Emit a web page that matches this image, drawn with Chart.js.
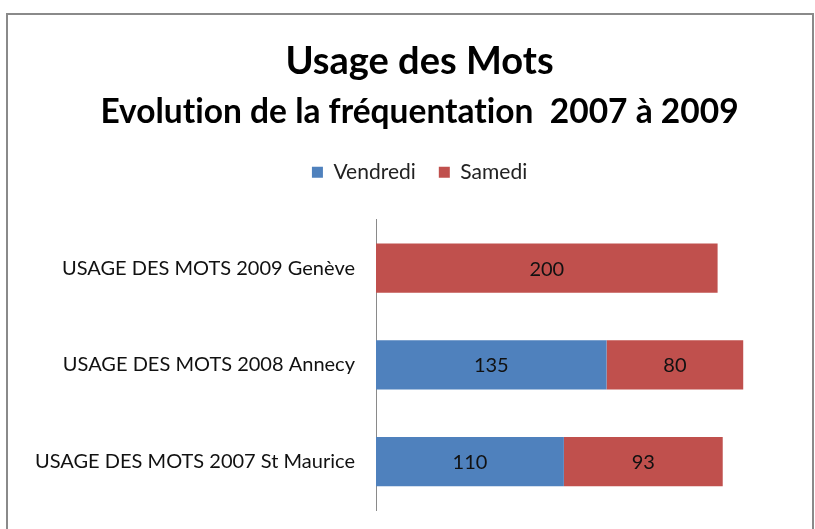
<!DOCTYPE html>
<html lang="fr">
<head>
<meta charset="UTF-8">
<title>Usage des Mots</title>
<script src="https://cdn.jsdelivr.net/npm/chart.js"></script>
<style>
  body { margin: 0; background: #fff; overflow: hidden; }
  #frame {
    position: absolute; left: 6px; top: 13px;
    width: 804px; height: 520px;
    border: 2px solid #8a8a8a;
    background: #fff;
  }
  canvas { display: block; }
</style>
</head>
<body>
<div id="frame">
  <canvas id="chart" width="804" height="520"></canvas>
</div>
<script>
// categories, top to bottom
var categories = [
  "USAGE DES MOTS 2009 Genève",
  "USAGE DES MOTS 2008 Annecy",
  "USAGE DES MOTS 2007 St Maurice"
];
var vendredi = [0, 135, 110];
var samedi = [200, 80, 93];
var seriesNames = ["Vendredi", "Samedi"];

var FONT = "Lato, 'Open Sans', sans-serif";

// no "ti" ligature in the titles
var noLigatures = {
  id: "noLigatures",
  beforeDraw: function (chart) {
    chart.ctx.letterSpacing = "0.01px";
  }
};

// draws the value in the middle of each bar
var barLabels = {
  id: "barLabels",
  afterDatasetsDraw: function (chart) {
    var ctx = chart.ctx;
    ctx.save();
    ctx.font = "20px " + FONT;
    ctx.fillStyle = "#111";
    ctx.textAlign = "center";
    ctx.textBaseline = "middle";
    chart.data.datasets.forEach(function (ds, i) {
      var meta = chart.getDatasetMeta(i);
      meta.data.forEach(function (bar, j) {
        var v = ds.data[j];
        if (!v) return;
        var p = bar.getCenterPoint();
        ctx.fillText(String(v), p.x, p.y + 1);
      });
    });
    ctx.restore();
  }
};

var ctx = document.getElementById("chart").getContext("2d");
var myChart = new Chart(ctx, {
  type: "bar",
  data: {
    labels: categories,
    datasets: [
      {
        label: seriesNames[0],
        data: vendredi,
        backgroundColor: "#4F81BD",
        barPercentage: 0.51,
        categoryPercentage: 1
      },
      {
        label: seriesNames[1],
        data: samedi,
        backgroundColor: "#C0504D",
        barPercentage: 0.51,
        categoryPercentage: 1
      }
    ]
  },
  options: {
    indexAxis: "y",
    responsive: false,
    animation: false,
    devicePixelRatio: 1,
    layout: { padding: { left: 28, right: 9, top: 0, bottom: 9 } },
    plugins: {
      title: {
        display: true,
        text: "Usage des Mots",
        color: "#000",
        font: { family: FONT, size: 38, weight: "bold" },
        padding: { top: 24, bottom: 4 }
      },
      subtitle: {
        display: true,
        text: "Evolution de la fréquentation  2007 à 2009",
        color: "#000",
        font: { family: FONT, size: 33.5, weight: "bold" },
        padding: { top: 4, bottom: 6 }
      },
      legend: {
        display: true,
        labels: {
          color: "#222",
          font: { family: FONT, size: 21 },
          boxWidth: 11,
          boxHeight: 11,
          padding: 23
        }
      },
      tooltip: { enabled: false }
    },
    scales: {
      // hidden top axis, only keeps the gap under the legend
      x: {
        position: "top",
        stacked: true,
        min: 0,
        max: 250,
        grid: { display: false },
        border: { display: false },
        ticks: { display: false },
        afterFit: function (scale) { scale.height = 27; }
      },
      y: {
        stacked: true,
        grid: { display: false },
        border: { display: true, color: "#8a8a8a", width: 1 },
        ticks: {
          color: "#111",
          font: { family: FONT, size: 20 },
          padding: 13
        },
        afterFit: function (scale) { scale.width = 340; }
      }
    }
  },
  plugins: [noLigatures, barLabels]
});
</script>
</body>
</html>
